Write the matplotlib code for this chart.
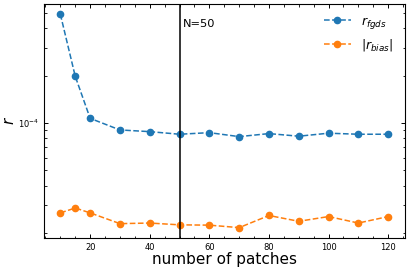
import matplotlib
matplotlib.use('Agg')
import matplotlib.pyplot as plt
from matplotlib.ticker import MultipleLocator

# number of patches
n_patches = [10, 15, 20, 30, 40, 50, 60, 70, 80, 90, 100, 110, 120]
# r_fgds
r_fgds = [4.92e-4, 1.98e-4, 1.07e-4, 0.903e-4, 0.881e-4, 0.848e-4, 0.868e-4,
          0.819e-4, 0.856e-4, 0.824e-4, 0.861e-4, 0.848e-4, 0.848e-4]
# |r_bias|
r_bias = [2.68e-5, 2.88e-5, 2.68e-5, 2.29e-5, 2.31e-5, 2.25e-5, 2.24e-5,
          2.16e-5, 2.58e-5, 2.37e-5, 2.54e-5, 2.31e-5, 2.54e-5]
n_mark = 50

fig = plt.figure(figsize=(4.07, 2.70), dpi=100)
ax = fig.add_axes([0.108, 0.1174, 0.886, 0.8696])

ax.plot(n_patches, r_fgds, 'o--', color='#1f77b4', ms=4.5, lw=1.1, label=r'$r_{fgds}$')
ax.plot(n_patches, r_bias, 'o--', color='#ff7f0e', ms=4.5, lw=1.1, label=r'$|r_{bias}|$')
ax.axvline(n_mark, color='k', lw=1.1)
ax.text(n_mark + 1, 0.913, 'N=50', transform=ax.get_xaxis_transform(),
        fontsize=8.2, va='center', ha='left')

ax.set_yscale('log')
ax.xaxis.set_major_locator(MultipleLocator(20))
ax.xaxis.set_minor_locator(MultipleLocator(5))
ax.tick_params(which='both', direction='in', top=True, right=True, labelsize=6)
ax.tick_params(which='major', length=3, width=0.7)
ax.tick_params(which='minor', length=1.8, width=0.6)
for s in ax.spines.values():
    s.set_linewidth(0.8)

ax.set_xlabel('number of patches', fontsize=11, labelpad=0)
ax.set_ylabel(r'$r$', fontsize=11, labelpad=1)
ax.legend(loc='upper right', frameon=False, fontsize=9, handlelength=2.2)

fig.savefig('out.png', dpi=100)
